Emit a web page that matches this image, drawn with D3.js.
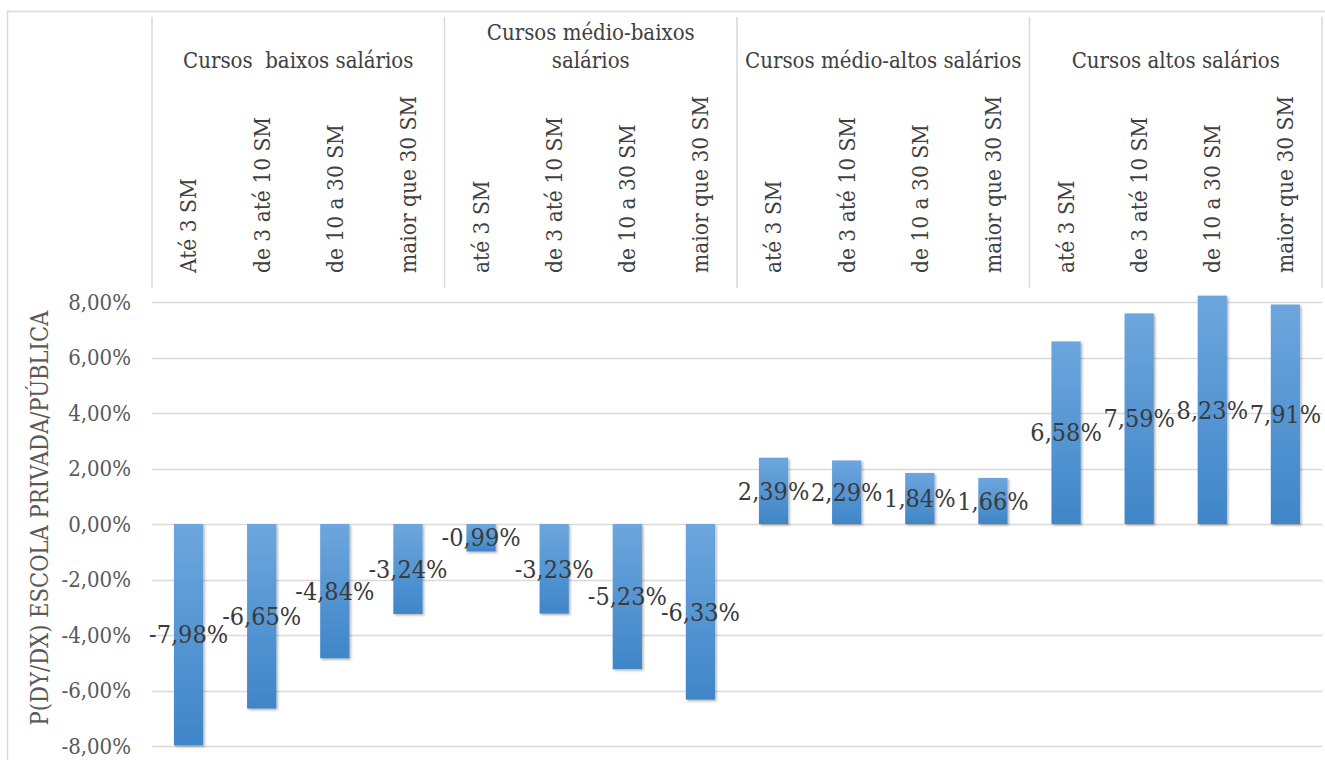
<!DOCTYPE html>
<html>
<head>
<meta charset="utf-8">
<script src="https://cdn.jsdelivr.net/npm/d3@7"></script>
<style>
  body { margin: 0; background: #fff; }
  svg { display: block; }
  svg text { font-family: "DejaVu Serif Condensed", "DejaVu Serif", serif; }
</style>
</head>
<body>
<svg id="chart" width="1325" height="760"></svg>
<script>
// data
const groupLabels = [["Cursos  baixos salários"], ["Cursos médio-baixos", "salários"], ["Cursos médio-altos salários"], ["Cursos altos salários"]];
const categories = [
  "Até 3 SM", "de 3 até 10 SM", "de 10 a 30 SM", "maior que 30 SM",
  "até 3 SM", "de 3 até 10 SM", "de 10 a 30 SM", "maior que 30 SM",
  "até 3 SM", "de 3 até 10 SM", "de 10 a 30 SM", "maior que 30 SM",
  "até 3 SM", "de 3 até 10 SM", "de 10 a 30 SM", "maior que 30 SM"
];
const values = [-7.98, -6.65, -4.84, -3.24, -0.99, -3.23, -5.23, -6.33, 2.39, 2.29, 1.84, 1.66, 6.58, 7.59, 8.23, 7.91];
const yTicks = [-8, -6, -4, -2, 0, 2, 4, 6, 8];
const yTitle = "P(DY/DX) ESCOLA PRIVADA/PÚBLICA";

const svg = d3.select("#chart");
const plotLeft = 152, plotRight = 1322, plotTop = 302, plotBottom = 746;
const perGroup = 4;

const fmt = v => v.toFixed(2).replace(".", ",") + "%";

const x = d3.scaleBand()
  .domain(d3.range(values.length))
  .range([plotLeft, plotRight])
  .paddingInner(0.6)
  .paddingOuter(0.3);

const y = d3.scaleLinear().domain([-8, 8]).range([plotBottom, plotTop]);

const defs = svg.append("defs");
const grad = defs.append("linearGradient")
  .attr("id", "barGrad")
  .attr("x1", 0).attr("y1", 0).attr("x2", 0).attr("y2", 1);
grad.append("stop").attr("offset", "0%").attr("stop-color", "#6da6de");
grad.append("stop").attr("offset", "100%").attr("stop-color", "#3f86c8");

const shadow = defs.append("filter").attr("id", "shadow")
  .attr("x", "-20%").attr("y", "-5%").attr("width", "150%").attr("height", "115%");
shadow.append("feDropShadow")
  .attr("dx", 1.5).attr("dy", 1.5).attr("stdDeviation", 1.2)
  .attr("flood-color", "#000").attr("flood-opacity", 0.3);

// outer frame
svg.append("line").attr("x1", 7).attr("x2", 1325).attr("y1", 11.5).attr("y2", 11.5)
  .attr("stroke", "#d9d9d9").attr("stroke-width", 1.5);
svg.append("line").attr("x1", 7.5).attr("x2", 7.5).attr("y1", 11).attr("y2", 760)
  .attr("stroke", "#d9d9d9").attr("stroke-width", 1.5);

// gridlines
svg.append("g")
  .selectAll("line")
  .data(yTicks)
  .join("line")
  .attr("x1", plotLeft).attr("x2", plotRight)
  .attr("y1", d => Math.round(y(d)) + 0.5).attr("y2", d => Math.round(y(d)) + 0.5)
  .attr("stroke", "#d9d9d9").attr("stroke-width", 1.5);

// y tick labels
svg.append("g")
  .selectAll("text")
  .data(yTicks)
  .join("text")
  .attr("x", 131)
  .attr("y", d => y(d))
  .attr("dy", "0.35em")
  .attr("text-anchor", "end")
  .attr("font-size", 22)
  .attr("fill", "#595959")
  .text(d => fmt(d));

// y title
svg.append("text")
  .attr("transform", `translate(40,${(plotTop + plotBottom) / 2 - 6}) rotate(-90)`)
  .attr("dy", "0.35em")
  .attr("text-anchor", "middle")
  .attr("font-size", 23.5)
  .attr("fill", "#595959")
  .text(yTitle);

// group separators
const step = x.step();
svg.append("g")
  .selectAll("line")
  .data(d3.range(groupLabels.length + 1))
  .join("line")
  .attr("x1", i => plotLeft + i * perGroup * step)
  .attr("x2", i => plotLeft + i * perGroup * step)
  .attr("y1", 17).attr("y2", 288)
  .attr("stroke", "#d9d9d9").attr("stroke-width", 1.5);

// group labels
svg.append("g")
  .selectAll("text")
  .data(groupLabels)
  .join("text")
  .attr("x", (d, i) => plotLeft + (i + 0.5) * perGroup * step)
  .attr("y", d => 68 - (d.length - 1) * 28)
  .attr("text-anchor", "middle")
  .attr("font-size", 22)
  .attr("fill", "#404040")
  .style("white-space", "pre")
  .each(function (d) {
    const t = d3.select(this);
    d.forEach((line, k) => {
      t.append("tspan")
        .attr("x", t.attr("x"))
        .attr("dy", k === 0 ? 0 : 28)
        .text(line);
    });
  });

// category labels
svg.append("g")
  .selectAll("text")
  .data(categories)
  .join("text")
  .attr("transform", (d, i) => `translate(${x(i) + x.bandwidth() / 2},273) rotate(-90)`)
  .attr("dy", "0.35em")
  .attr("text-anchor", "start")
  .attr("font-size", 22.5)
  .attr("fill", "#404040")
  .text(d => d);

// bars
svg.append("g")
  .selectAll("rect")
  .data(values)
  .join("rect")
  .attr("x", (d, i) => x(i))
  .attr("width", x.bandwidth())
  .attr("y", d => y(Math.max(0, d)))
  .attr("height", d => Math.abs(y(d) - y(0)))
  .attr("fill", "url(#barGrad)")
  .attr("filter", "url(#shadow)");

// data labels
svg.append("g")
  .selectAll("text")
  .data(values)
  .join("text")
  .attr("x", (d, i) => x(i) + x.bandwidth() / 2)
  .attr("y", d => (y(d) + y(0)) / 2)
  .attr("dy", "0.35em")
  .attr("text-anchor", "middle")
  .attr("font-size", 25)
  .attr("fill", "#3a3a3a")
  .text(d => fmt(d));
</script>
</body>
</html>
